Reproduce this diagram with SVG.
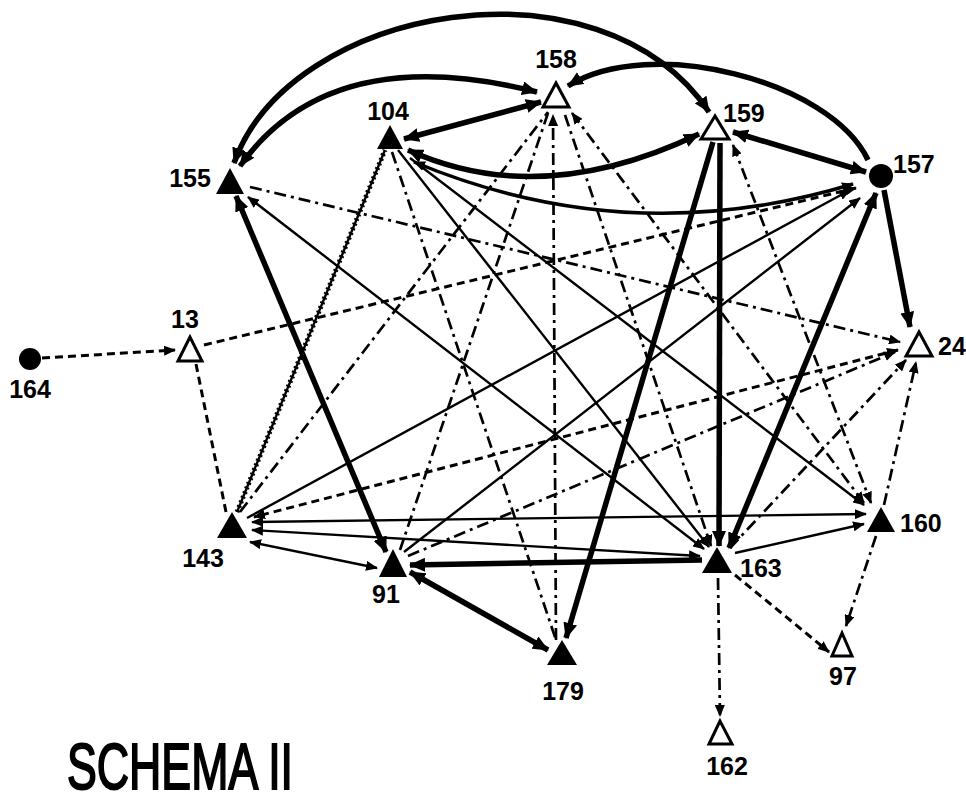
<svg xmlns="http://www.w3.org/2000/svg" width="966" height="802" viewBox="0 0 966 802">
<style>
.t{fill:none;stroke:#000;stroke-width:5.5}
.m{fill:none;stroke:#000;stroke-width:3.5}
.s{fill:none;stroke:#000;stroke-width:2.4}
.d{fill:none;stroke:#000;stroke-width:3;stroke-dasharray:8 5}
.dd{fill:none;stroke:#000;stroke-width:2.7;stroke-dasharray:12 5 3 5}
.w{fill:none;stroke:#000;stroke-width:5;stroke-dasharray:2 3}
.lbl{font-family:"Liberation Sans",Arial,sans-serif;font-weight:bold;font-size:25px;fill:#000}
.f{fill:#000}
.o{fill:#fff;stroke:#000;stroke-width:3}
</style>
<defs>
<marker id="a" viewBox="0 0 12 10" refX="11" refY="5" markerWidth="12" markerHeight="10" markerUnits="userSpaceOnUse" orient="auto-start-reverse"><path d="M0,0 L12,5 L0,10 z"/></marker>
<marker id="A" viewBox="0 0 16 14" refX="15" refY="7" markerWidth="16" markerHeight="14" markerUnits="userSpaceOnUse" orient="auto-start-reverse"><path d="M0,0 L16,7 L0,14 z"/></marker>
</defs>
<rect width="966" height="802" fill="#fff"/>
<g id="connectors">
<path class="t" d="M240,166 Q330,40 537,92" marker-start="url(#A)" marker-end="url(#A)"/>
<path class="t" d="M234,163 C290,5 600,-50 709,112" marker-start="url(#A)" marker-end="url(#A)"/>
<path class="t" d="M404,139 L541,102" marker-start="url(#A)" marker-end="url(#A)"/>
<path class="t" d="M408,150 Q540,210 699,134" marker-start="url(#A)" marker-end="url(#A)"/>
<path class="t" d="M868,160 C830,80 650,35 568,86" marker-end="url(#A)"/>
<path class="t" d="M866,172 L733,132" marker-start="url(#A)" marker-end="url(#A)"/>
<path class="t" d="M236,196 L386,552" marker-start="url(#A)" marker-end="url(#A)"/>
<path class="t" d="M410,572 L548,650" marker-start="url(#A)" marker-end="url(#A)"/>
<path class="t" d="M702,560 L410,565" marker-end="url(#A)"/>
<path class="t" d="M713,142 L566,638" marker-end="url(#A)"/>
<path class="t" d="M720,143 L719,546" marker-end="url(#A)"/>
<path class="t" d="M876,193 L729,548" marker-start="url(#A)" marker-end="url(#A)"/>
<path class="t" d="M884,190 L910,327" marker-end="url(#A)"/>
<path class="m" d="M414,162 Q630,252 853,184" marker-start="url(#a)" marker-end="url(#a)"/>
<path class="s" d="M248,197 L704,549" marker-start="url(#a)" marker-end="url(#a)"/>
<path class="s" d="M398,150 L709,547" marker-end="url(#a)"/>
<path class="s" d="M410,158 L864,505" marker-end="url(#a)"/>
<path class="s" d="M247,518 L850,190" marker-end="url(#a)"/>
<path class="s" d="M404,552 L860,198" marker-end="url(#a)"/>
<path class="s" d="M866,514 L252,522" marker-start="url(#a)" marker-end="url(#a)"/>
<path class="s" d="M252,530 L700,556" marker-start="url(#a)" marker-end="url(#a)"/>
<path class="s" d="M250,542 L377,568" marker-start="url(#a)" marker-end="url(#a)"/>
<path class="s" d="M735,553 L864,524" marker-end="url(#a)"/>
<path class="s" d="M237,512 L385,150"/>
<path class="w" d="M237,512 L385,150"/>
<path class="d" d="M42,358 L175,350" marker-end="url(#a)"/>
<path class="d" d="M204,345 L856,188" marker-end="url(#a)"/>
<path class="d" d="M196,364 L226,512"/>
<path class="d" d="M898,350 L254,517" marker-start="url(#a)" marker-end="url(#a)"/>
<path class="d" d="M735,575 L829,652" marker-end="url(#a)"/>
<path class="dd" d="M250,187 L900,342" marker-end="url(#a)"/>
<path class="dd" d="M240,512 L548,112"/>
<path class="dd" d="M548,113 L400,550"/>
<path class="dd" d="M392,152 L556,640"/>
<path class="dd" d="M556,640 L553,115" marker-end="url(#a)"/>
<path class="dd" d="M565,115 L711,546" marker-end="url(#a)"/>
<path class="dd" d="M572,113 L864,503" marker-start="url(#a)" marker-end="url(#a)"/>
<path class="dd" d="M733,145 L871,503" marker-start="url(#a)" marker-end="url(#a)"/>
<path class="dd" d="M408,556 L895,352" marker-end="url(#a)"/>
<path class="dd" d="M730,548 L906,360" marker-end="url(#a)"/>
<path class="dd" d="M884,505 L916,362" marker-end="url(#a)"/>
<path class="dd" d="M876,536 L846,626" marker-end="url(#a)"/>
<path class="dd" d="M718,578 L720,716" marker-end="url(#a)"/>
</g>
<g id="n158"><path class="o" d="M556,83 L543,107 L569,107 z"/><text class="lbl" x="556" y="68" text-anchor="middle">158</text></g>
<g id="n104"><path class="f" d="M390,125 L377,149 L403,149 z"/><text class="lbl" x="388" y="120" text-anchor="middle">104</text></g>
<g id="n159"><path class="o" d="M715,116 L701,139 L729,139 z"/><text class="lbl" x="723" y="122">159</text></g>
<g id="n157"><circle class="f" cx="881" cy="176" r="12"/><text class="lbl" x="893" y="173">157</text></g>
<g id="n155"><path class="f" d="M230,168 L216,194 L244,194 z"/><text class="lbl" x="190" y="187" text-anchor="middle">155</text></g>
<g id="n13"><path class="o" d="M190,337 L178,361 L202,361 z"/><text class="lbl" x="185" y="328" text-anchor="middle">13</text></g>
<g id="n164"><circle class="f" cx="30" cy="359" r="11"/><text class="lbl" x="30" y="398" text-anchor="middle">164</text></g>
<g id="n24"><path class="o" d="M919,332 L906,356 L932,356 z"/><text class="lbl" x="938" y="355">24</text></g>
<g id="n143"><path class="f" d="M232,512 L217,538 L247,538 z"/><text class="lbl" x="203" y="567" text-anchor="middle">143</text></g>
<g id="n160"><path class="f" d="M881,507 L867,532 L895,532 z"/><text class="lbl" x="900" y="532">160</text></g>
<g id="n91"><path class="f" d="M393,549 L379,577 L407,577 z"/><text class="lbl" x="386" y="603" text-anchor="middle">91</text></g>
<g id="n163"><path class="f" d="M717,547 L702,573 L732,573 z"/><text class="lbl" x="740" y="577">163</text></g>
<g id="n179"><path class="f" d="M562,640 L547,665 L577,665 z"/><text class="lbl" x="563" y="700" text-anchor="middle">179</text></g>
<g id="n97"><path class="o" d="M842,633 L832,656 L852,656 z"/><text class="lbl" x="843" y="685" text-anchor="middle">97</text></g>
<g id="n162"><path class="o" d="M720,721 L709,744 L732,744 z"/><text class="lbl" x="727" y="775" text-anchor="middle">162</text></g>
<text x="67" y="789" font-family="Liberation Sans, Arial, sans-serif" font-size="64" textLength="226" lengthAdjust="spacingAndGlyphs" stroke="#000" stroke-width="2">SCHEMA II</text>
</svg>
